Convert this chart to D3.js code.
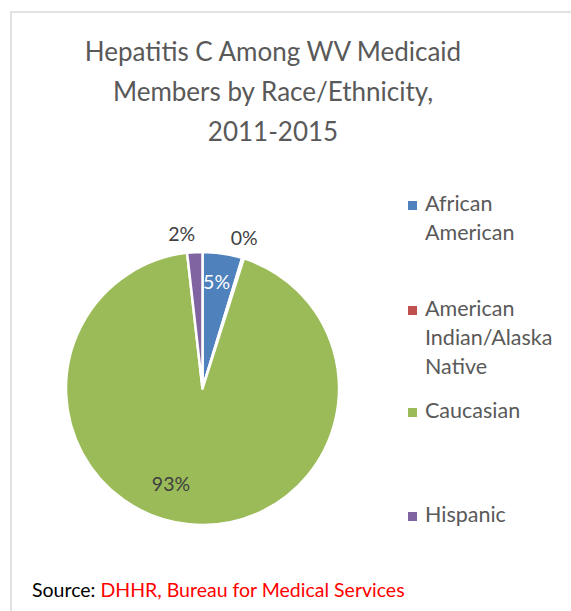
<!DOCTYPE html>
<html><head><meta charset="utf-8">
<script src="https://cdn.jsdelivr.net/npm/d3@7"></script>
<style>html,body{margin:0;padding:0;background:#fff;}svg{display:block;}</style>
</head><body>
<svg id="chart" width="571" height="611"></svg>
<script>
const categories = ["African American", "American Indian/Alaska Native", "Caucasian", "Hispanic"];
const legendLines = [["African", "American"], ["American", "Indian/Alaska", "Native"], ["Caucasian"], ["Hispanic"]];
const values = [4.7, 0.2, 93.3, 1.8];
const labels = ["5%", "0%", "93%", "2%"];
const colors = ["#4f81bd", "#c0504d", "#9bbb59", "#8064a2"];
const titleLines = ["Hepatitis C Among WV Medicaid", "Members by Race/Ethnicity,", "2011-2015"];

const font = "Lato, 'Open Sans', sans-serif";
const svg = d3.select("#chart");

svg.append("rect").attr("x", 11).attr("y", 12).attr("width", 600).attr("height", 640)
  .attr("fill", "#fff").attr("stroke", "#d9d9d9").attr("stroke-width", 1.5);

svg.append("g").selectAll("text").data(titleLines).join("text")
  .attr("x", 273).attr("y", (d, i) => 61 + i * 40)
  .attr("text-anchor", "middle").attr("font-family", font).attr("font-size", 26)
  .attr("fill", "#595959").text(d => d);

const cx = 202.5, cy = 388.5, R = 136.5;
const pie = d3.pie().sort(null).value(d => d)(values);
const arc = d3.arc().innerRadius(0).outerRadius(R);
const g = svg.append("g").attr("transform", `translate(${cx},${cy})`);
g.selectAll("path").data(pie).join("path")
  .attr("d", arc).attr("fill", (d, i) => colors[i])
  .attr("stroke", "#fff").attr("stroke-width", 2.5).attr("stroke-linejoin", "round");

const labelRadius = [0.80, 1.15, 0.72, 1.13];
const labelNudge = [[-2, 2], [-5, 0], [-22, -2], [-12, 0]];
const labelColor = ["#fff", "#404040", "#404040", "#404040"];
g.selectAll("text.lbl").data(pie).join("text").attr("class", "lbl")
  .attr("transform", (d, i) => {
    const a = d3.arc().innerRadius(R * labelRadius[i]).outerRadius(R * labelRadius[i]);
    const c = a.centroid(d);
    return `translate(${c[0] + labelNudge[i][0]},${c[1] + labelNudge[i][1]})`;
  })
  .attr("text-anchor", "middle").attr("dy", "0.35em")
  .attr("font-family", font).attr("font-size", 19.5)
  .attr("fill", (d, i) => labelColor[i]).text((d, i) => labels[i]);

const legendY = [211, 316, 418, 522];
const lg = svg.append("g");
categories.forEach((c, i) => {
  lg.append("rect").attr("x", 408).attr("y", legendY[i] - 10).attr("width", 9).attr("height", 9)
    .attr("fill", colors[i]);
  const t = lg.append("text").attr("font-family", font).attr("font-size", 21.5).attr("fill", "#595959");
  legendLines[i].forEach((ln, j) => {
    t.append("tspan").attr("x", 425).attr("y", legendY[i] + j * 29).text(ln);
  });
});

const src = svg.append("text").attr("x", 32).attr("y", 597)
  .attr("font-family", font).attr("font-size", 19.5);
src.append("tspan").attr("fill", "#000").text("Source: ");
src.append("tspan").attr("fill", "#ff0000").text("DHHR, Bureau for Medical Services");
</script>
</body></html>
